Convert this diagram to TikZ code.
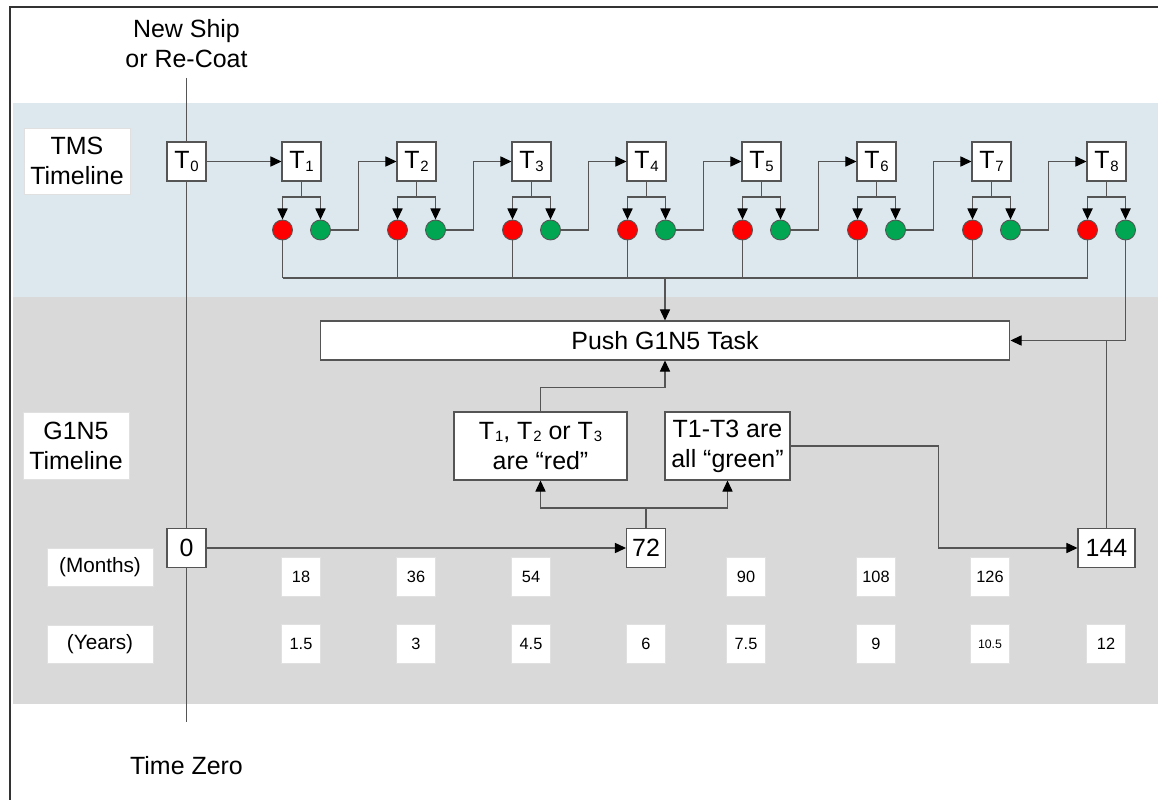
\documentclass[tikz,border=0pt]{standalone}
\usepackage{fontspec}
\setmainfont{Liberation Sans}
\usetikzlibrary{positioning,arrows.meta,calc}
\definecolor{TmsBand}{HTML}{DCE8EE}
\definecolor{GnBand}{HTML}{D9D9D9}
\definecolor{LineGray}{HTML}{555555}
\definecolor{RedDot}{HTML}{FF0000}
\definecolor{GreenDot}{HTML}{00A651}
\newcommand{\Tsub}[1]{T\kern0.5pt\raisebox{-1.3pt}{\fontsize{8.5pt}{9pt}\selectfont #1}}

\begin{document}
\begin{tikzpicture}[x=0.02cm,y=-0.02cm,
  font=\fontsize{14.2pt}{17pt}\selectfont,
  box/.style={draw=LineGray,fill=white,line width=0.6pt,inner sep=0pt,align=center},
  tbox/.style={box,minimum width=0.78cm,minimum height=0.78cm},
  lbl/.style={fill=white,draw=black!12,line width=0.5pt,inner sep=0pt,align=center,
              minimum width=2.12cm},
  num/.style={fill=white,draw=black!12,line width=0.5pt,minimum size=0.78cm,inner sep=0pt,
              font=\fontsize{9.3pt}{11pt}\selectfont},
  dot/.style={circle,draw=LineGray,minimum size=0.4cm,inner sep=0pt,line width=0.5pt},
  ln/.style={draw=LineGray,line width=0.6pt},
  ar/.style={ln,-{Triangle[length=6.3pt,width=5.8pt,color=black]}},
]
\useasboundingbox (0,0) rectangle (1158,800);

% bands and frame
\fill[TmsBand] (13,103) rectangle (1158,297);
\fill[GnBand] (13,297) rectangle (1158,704);
\draw[black!80,line width=1.2pt] (10,800) -- (10,7) -- (1158,7);

% time zero axis
\coordinate (vtop) at (186.5,78);
\coordinate (vbot) at (186.5,722);
\draw[ln] (vtop) -- (vbot);
\node[align=center] (newship) at (186.5,44) {New Ship\\or Re-Coat};
\node (tzero) at (186.5,766) {Time Zero};

% row labels
\node[lbl,minimum height=1.32cm] (tms) at (77,161) {TMS\\Timeline};
\node[lbl,minimum height=1.34cm] (gns) at (76,446) {G1N5\\Timeline};
\node[lbl,minimum height=0.76cm,font=\fontsize{11.8pt}{13pt}\selectfont] (months) at (100,567) {(Months)};
\node[lbl,minimum height=0.76cm,font=\fontsize{11.8pt}{13pt}\selectfont] (years) at (100,644) {(Years)};

% TMS timeline
\foreach \i in {0,...,8}
  \node[tbox] (t\i) at ({186.5+115*\i},161.5) {\Tsub{\i}};
\foreach \i in {1,...,8} {
  \node[dot,fill=RedDot] (r\i) at ({167.5+115*\i},230) {};
  \node[dot,fill=GreenDot] (g\i) at ({205.5+115*\i},230) {};
  \draw[ln] (t\i.south) -- ++(0,15.5) coordinate (b\i);
  \draw[ar] (b\i) -| (r\i.north);
  \draw[ar] (b\i) -| (g\i.north);
}
\draw[ar] (t0) -- (t1);
\foreach \i [count=\j from 2] in {1,...,7}
  \draw[ar] (g\i.east) -- ++(28,0) |- (t\j.west);

% red bus
\coordinate (bus) at (0,278);
\foreach \i in {1,...,8}
  \draw[ln] (r\i.south) -- (r\i.south |- bus);
\draw[ln] (r1.south |- bus) -- (r8.south |- bus);

% G1N5 timeline
\node[box,minimum width=13.8cm,minimum height=0.78cm] (push) at (665,340.5) {Push G1N5 Task};
\draw[ar] (push.north |- bus) -- (push.north);
\draw[ar] (g8.south) |- (push.east);

\node[box,minimum width=3.46cm,minimum height=1.36cm] (redq) at (540.5,446)
  {\Tsub{1}, \Tsub{2} or \Tsub{3}\\are “red”};
\node[box,minimum width=2.5cm,minimum height=1.36cm] (greenq) at (727.5,446)
  {T1-T3 are\\all “green”};

\node[tbox] (z0) at (186.5,548) {0};
\node[tbox] (m72) at (646,548) {72};
\node[box,minimum width=1.14cm,minimum height=0.78cm] (m144) at (1106.5,548) {144};

\draw[ar] (z0) -- (m72);
\draw[ln] (m72.north) -- ++(0,-20) coordinate (split);
\draw[ar] (split) -| (redq.south);
\draw[ar] (split) -| (greenq.south);
\draw[ar] (redq.north) -- ++(0,-24) -| (push.south);
\draw[ar] (greenq.east) -- ++(147.5,0) |- (m144.west);
\draw[ln] (m144.north) -- (m144.north |- push.east);

% months and years
\foreach \x/\v in {301/18,416/36,531/54,746/90,876/108,990/126}
  \node[num] (mo\v) at (\x,577) {\v};
\foreach \x/\v [count=\k] in {301/1.5,416/3,531/4.5,646/6,746/7.5,876/9}
  \node[num] (yr\k) at (\x,644) {\v};
\node[num,font=\fontsize{7pt}{8pt}\selectfont] (yr7) at (990,644) {10.5};
\node[num] (yr8) at (1106,644) {12};
\end{tikzpicture}
\end{document}
